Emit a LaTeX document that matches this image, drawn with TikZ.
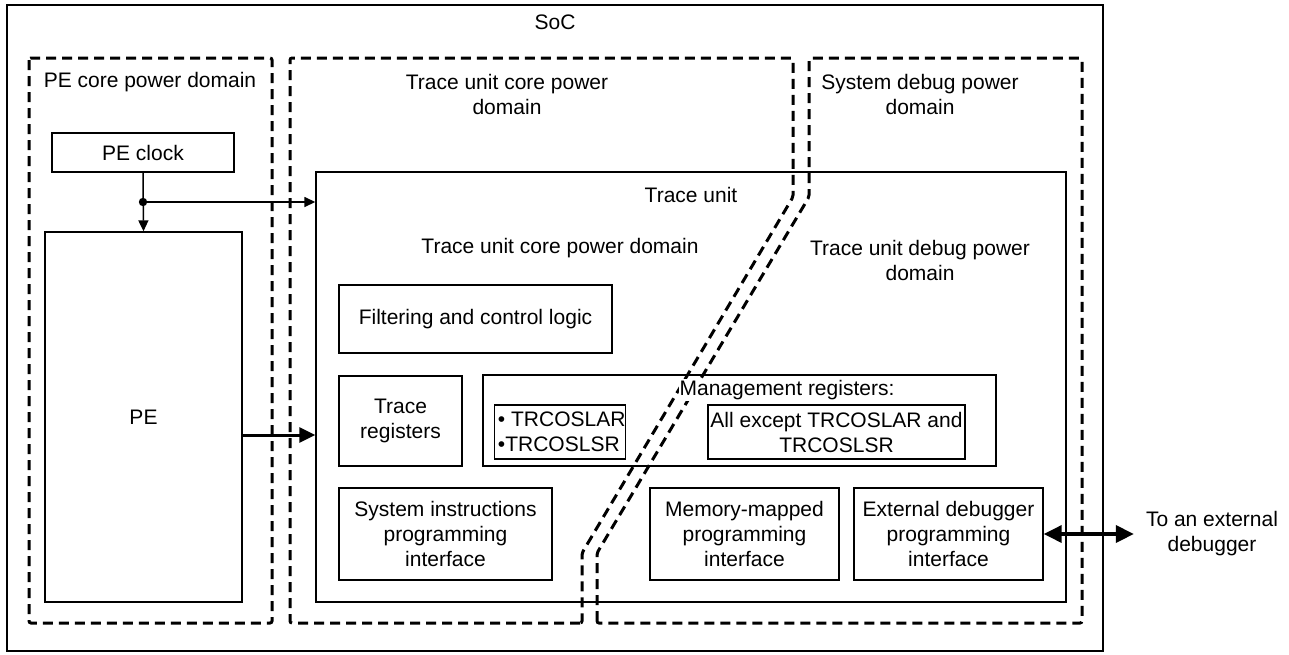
\documentclass[tikz,border=0pt]{standalone}
\usepackage{fontspec}
\setmainfont{Liberation Sans}
\usetikzlibrary{arrows.meta}
\begin{document}
\begin{tikzpicture}[x=1pt,y=-1pt,
  font=\fontsize{21}{25}\selectfont,
  box/.style={draw,line width=1.4pt,inner sep=0pt,align=center},
  dom/.style={line width=3pt,dash pattern=on 10pt off 6pt,rounded corners=2pt},
  lbl/.style={inner sep=1pt,align=center},
  thinarr/.style={line width=1.5pt,-{Triangle[length=11pt,width=10pt]}},
  thickarr/.style={line width=3pt,-{Triangle[length=16pt,width=15pt]}},
  dblarr/.style={line width=3.5pt,{Triangle[length=18pt,width=17pt]}-{Triangle[length=18pt,width=17pt]}}]
\useasboundingbox (0,0) rectangle (1289,654);
% SoC
\node[box,minimum width=1096pt,minimum height=646pt] (soc) at (555,328) {};
\node[lbl] (soct) at (555,22) {SoC};
% power domains
\draw[dom] (29,58) rectangle (272,623);
\node[lbl] (pedt) at (150,82) {PE core power domain};
\draw[dom] (582,623) -- (290,623) -- (290,58) -- (793,58) -- (793,197) -- (582,553) -- cycle;
\draw[dom] (597,623) -- (597,553) -- (809,197) -- (809,58) -- (1082,58) -- (1082,623) -- cycle;
\node[lbl] (tcdt) at (507,94) {Trace unit core power\\domain};
\node[lbl] (sddt) at (920,94) {System debug power\\domain};
% PE side
\node[box,minimum width=182pt,minimum height=39pt] (peclock) at (143,152.5) {PE clock};
\node[box,minimum width=197pt,minimum height=370pt] (pe) at (143.5,417) {PE};
% Trace unit
\node[box,minimum width=750pt,minimum height=430pt] (tu) at (691,387) {};
\node[lbl] (tut) at (691,195) {Trace unit};
\node[lbl] (tucd) at (560,248) {Trace unit core power domain};
\node[lbl] (tudd) at (920,260) {Trace unit debug power\\domain};
\node[box,minimum width=273pt,minimum height=68pt] (filt) at (475.5,319) {Filtering and control logic};
\node[box,minimum width=123pt,minimum height=90pt] (treg) at (400.5,421) {Trace\\registers};
\node[box,minimum width=513pt,minimum height=91pt] (mgmt) at (739.5,420.5) {};
\node[box,minimum width=213pt,minimum height=92pt] (sysi) at (445.5,534) {System instructions\\programming\\interface};
\node[box,minimum width=189pt,minimum height=92pt] (mmap) at (744.5,534) {Memory-mapped\\programming\\interface};
\node[box,minimum width=189pt,minimum height=92pt] (extd) at (948.5,534) {External debugger\\programming\\interface};
\node[lbl,fill=white,inner sep=1pt] (mgmtt) at (787,390) {Management registers:};
\node[box,minimum width=126pt,minimum height=54pt,align=left] (osl) at (560,432) {\,{\textbullet} TRCOSLAR\\\,{\textbullet}TRCOSLSR};
\node[box,minimum width=257pt,minimum height=54pt] (allx) at (836.5,432) {All except TRCOSLAR and\\TRCOSLSR};
% connectors
\coordinate (j) at (143,202);
\draw[thinarr] (peclock.south) -- (pe.north);
\fill (j) circle (4.2pt);
\draw[thinarr] (j) -- (j -| tu.west);
\draw[thickarr] (pe.east |- 0,435) -- (tu.west |- 0,435);
\node[lbl,inner sep=0pt] (dbg) at (1212,534) {To an external\\debugger};
\draw[dblarr] (extd.east) -- ([xshift=-12pt]dbg.west);
\end{tikzpicture}
\end{document}
